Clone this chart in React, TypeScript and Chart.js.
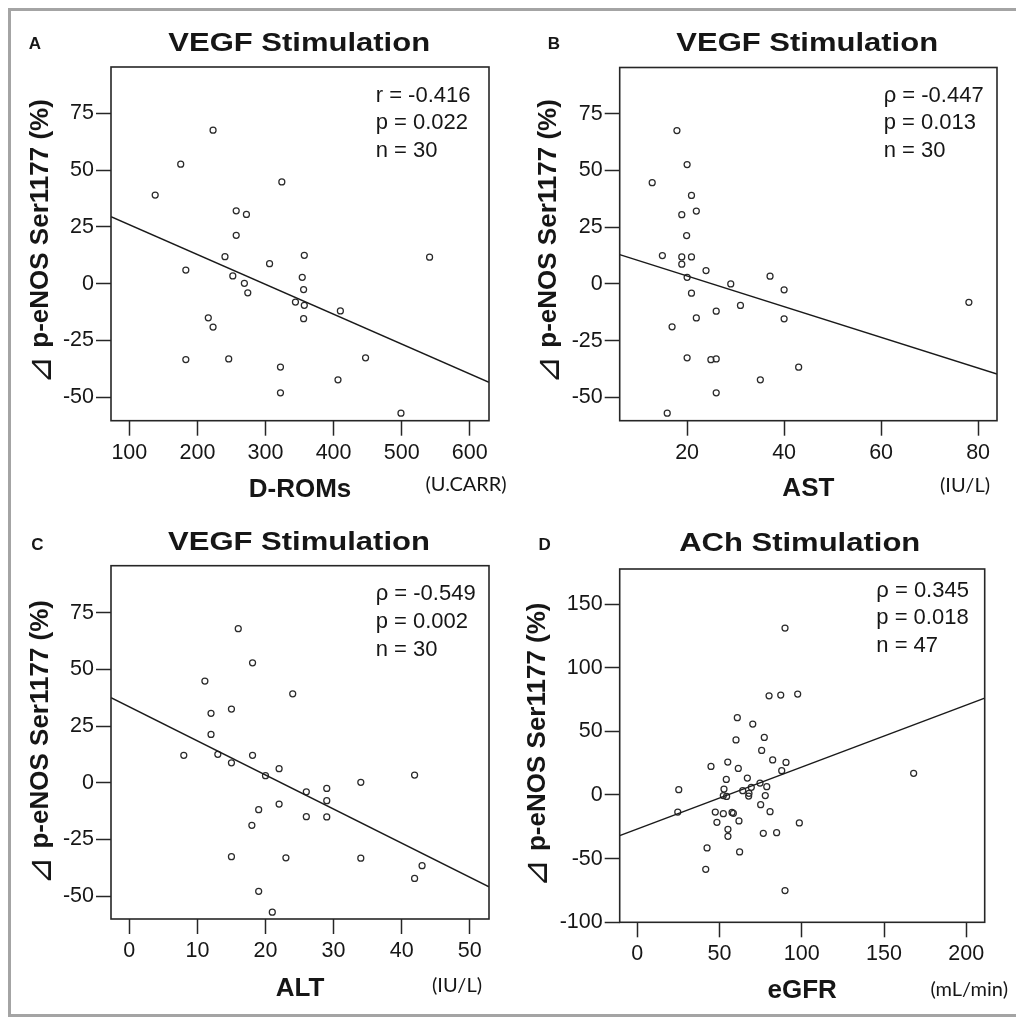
import React, { useEffect, useRef } from "react";
import { Chart, registerables } from "chart.js";

Chart.register(...registerables);

// ---------- Panel A: D-ROMs (U.CARR) vs Δ p-eNOS Ser1177 (%) — VEGF ----------
const dromsX = [223, 175.5, 138, 324, 257, 272, 257, 183, 240.5, 252, 269, 274, 306, 357, 354, 356, 344, 357, 356, 410, 541, 216, 223, 183, 246, 322, 322, 406.5, 447, 499];
const dromsY = [67.6, 52.6, 39, 44.8, 32.1, 30.5, 21.3, 6.0, 11.9, 3.4, 0.2, -4.0, 8.8, 12.5, 2.8, -2.6, -8.1, -9.5, -15.4, -12.0, 11.7, -15.0, -19.1, -33.4, -33.1, -36.7, -48.0, -42.3, -32.6, -57.0];
const dromsFitX = [73.1, 628.3];
const dromsFitY = [29.5, -43.4];
const dromsXTicks = [100, 200, 300, 400, 500, 600];
const dromsStats = ["r = -0.416", "p = 0.022", "n = 30"];

// ---------- Panel B: AST (IU/L) ----------
const astX = [17.9, 20, 12.8, 20.9, 21.9, 18.9, 19.9, 14.9, 18.9, 20.9, 18.9, 23.9, 20, 29, 37.1, 40, 20.9, 31, 26, 21.9, 40, 16.9, 78.1, 20, 24.9, 26, 43, 35.1, 26, 15.9];
const astY = [67.6, 52.6, 44.6, 39, 32.1, 30.5, 21.3, 12.5, 11.9, 11.9, 8.7, 5.9, 2.9, 0, 3.4, -2.6, -4.1, -9.5, -12.0, -15.0, -15.4, -18.9, -8.1, -32.6, -33.4, -33.1, -36.7, -42.3, -48.0, -57.0];
const astFitX = [6.1, 83.9];
const astFitY = [12.9, -39.7];
const astXTicks = [20, 40, 60, 80];
const astStats = ["ρ = -0.447", "p = 0.013", "n = 30"];

// ---------- Panel C: ALT (IU/L) ----------
const altX = [16.0, 18.1, 11.1, 24.0, 15.0, 12.0, 12.0, 8.0, 13.0, 18.1, 15.0, 20.0, 22.0, 34.0, 41.9, 26.0, 29.0, 29.0, 22.0, 19.0, 26.0, 29.0, 18.0, 15.0, 23.0, 34.0, 43.0, 41.9, 19.0, 21.0];
const altY = [67.9, 52.9, 44.8, 39.2, 32.5, 30.6, 21.3, 12.1, 12.5, 12.1, 8.8, 3.1, 6.2, 0.2, 3.4, -4.0, -2.5, -7.9, -9.4, -11.9, -15.0, -15.1, -18.8, -32.6, -33.1, -33.3, -36.6, -42.2, -47.9, -57.1];
const altFitX = [-2.69, 52.83];
const altFitY = [37.5, -45.9];
const altXTicks = [0, 10, 20, 30, 40, 50];
const altStats = ["ρ = -0.549", "p = 0.002", "n = 30"];

// ---------- Panel D: eGFR (mL/min) — ACh ----------
const egfrX = [89.8, 80.1, 87.2, 97.5, 60.8, 70.2, 60.0, 77.2, 75.6, 44.8, 55.0, 61.4, 82.3, 90.4, 87.8, 54.1, 66.9, 74.6, 25.2, 52.7, 64.1, 69.3, 78.7, 67.9, 67.7, 52.3, 54.3, 77.8, 75.0, 80.7, 24.6, 47.4, 52.3, 57.6, 58.4, 48.4, 61.8, 98.5, 55.1, 55.1, 76.6, 84.7, 42.4, 62.2, 41.6, 89.8, 168.0];
const egfrY = [131.1, 77.9, 78.5, 79.3, 60.7, 55.7, 43.2, 45.2, 35.0, 22.4, 25.9, 20.9, 27.5, 25.6, 19.1, 12.2, 13.3, 9.4, 4.2, 4.7, 3.4, 6.0, 6.5, 1.3, -0.8, -0.5, -1.1, -0.5, -7.6, -13.1, -13.4, -13.4, -14.7, -13.7, -14.4, -21.5, -20.4, -22.0, -27.0, -32.5, -30.1, -29.6, -41.6, -44.7, -58.4, -75.1, 17.0];
const egfrFitX = [-10.7, 211.2];
const egfrFitY = [-31.9, 76.1];
const egfrXTicks = [0, 50, 100, 150, 200];
const egfrStats = ["ρ = 0.345", "p = 0.018", "n = 47"];

// shared y ticks
const vegfYTicks = [-50, -25, 0, 25, 50, 75];
const achYTicks = [-100, -50, 0, 50, 100, 150];

const yTitleSymbol = "⊿";
const yTitleText = "p-eNOS Ser1177 (%)";
const FONT = '"Liberation Sans", Arial, Helvetica, sans-serif';
const INK = "#161616";

type PanelCfg = {
  canvas: { x: number; y: number; w: number; h: number };
  area: { l: number; t: number; r: number; b: number };
  xs: number[];
  ys: number[];
  fitX: number[];
  fitY: number[];
  xRange: [number, number];
  yRange: [number, number];
  xTicks: number[];
  yTicks: number[];
  xTitle: string;
  xTitleY: number;
  yTitleX: number;
  yTitleMid: number;
  letter: string;
  letterPos: [number, number];
  title: string;
  titlePos: [number, number];
  stats: string[];
  statsX: number;
  statsY: number[];
  unit: string;
  unitPos: [number, number];
};

const panels: PanelCfg[] = [
  {
    canvas: { x: 0, y: 0, w: 508, h: 500 },
    area: { l: 111, t: 67, r: 489, b: 420.7 },
    xs: dromsX, ys: dromsY, fitX: dromsFitX, fitY: dromsFitY,
    xRange: [73.1, 628.3], yRange: [-60.3, 95.4],
    xTicks: dromsXTicks, yTicks: vegfYTicks,
    xTitle: "D-ROMs", xTitleY: 489.5, yTitleX: 40.8, yTitleMid: 241.7,
    letter: "A", letterPos: [35, 48.5],
    title: "VEGF Stimulation", titlePos: [299.2, 50.5],
    stats: dromsStats, statsX: 375.7, statsY: [101.7, 129.3, 156.7],
    unit: "(U.CARR)", unitPos: [506.7, 484.5],
  },
  {
    canvas: { x: 508, y: 0, w: 508, h: 500 },
    area: { l: 619.7, t: 67.5, r: 997, b: 420.7 },
    xs: astX, ys: astY, fitX: astFitX, fitY: astFitY,
    xRange: [6.1, 83.9], yRange: [-60.3, 95.4],
    xTicks: astXTicks, yTicks: vegfYTicks,
    xTitle: "AST", xTitleY: 489, yTitleX: 548.8, yTitleMid: 241.7,
    letter: "B", letterPos: [554, 49],
    title: "VEGF Stimulation", titlePos: [807.2, 50.5],
    stats: astStats, statsX: 883.7, statsY: [101.7, 129.3, 156.7],
    unit: "(IU/L)", unitPos: [990, 485.5],
  },
  {
    canvas: { x: 0, y: 500, w: 508, h: 517 },
    area: { l: 111, t: 565.7, r: 489, b: 919 },
    xs: altX, ys: altY, fitX: altFitX, fitY: altFitY,
    xRange: [-2.69, 52.83], yRange: [-60.1, 95.7],
    xTicks: altXTicks, yTicks: vegfYTicks,
    xTitle: "ALT", xTitleY: 988.7, yTitleX: 40.8, yTitleMid: 742.5,
    letter: "C", letterPos: [37.5, 550],
    title: "VEGF Stimulation", titlePos: [299, 550],
    stats: altStats, statsX: 375.7, statsY: [600, 628.3, 655.7],
    unit: "(IU/L)", unitPos: [482, 986],
  },
  {
    canvas: { x: 508, y: 500, w: 508, h: 517 },
    area: { l: 619.7, t: 569, r: 984.7, b: 922.3 },
    xs: egfrX, ys: egfrY, fitX: egfrFitX, fitY: egfrFitY,
    xRange: [-10.7, 211.2], yRange: [-100, 177.5],
    xTicks: egfrXTicks, yTicks: achYTicks,
    xTitle: "eGFR", xTitleY: 990.5, yTitleX: 537.5, yTitleMid: 745,
    letter: "D", letterPos: [544.7, 550],
    title: "ACh Stimulation", titlePos: [799.7, 551],
    stats: egfrStats, statsX: 876.3, statsY: [596.7, 624, 651.7],
    unit: "(mL/min)", unitPos: [1008, 990],
  },
];

function Panel({ cfg }: { cfg: PanelCfg }) {
  const ref = useRef<HTMLCanvasElement | null>(null);

  useEffect(() => {
    const canvas = ref.current;
    if (!canvas) return;
    const cx = cfg.canvas.x;
    const cy = cfg.canvas.y;
    const l = cfg.area.l - cx;
    const t = cfg.area.t - cy;
    const r = cfg.area.r - cx;
    const b = cfg.area.b - cy;
    const titleSize = 26;
    const titleLH = 1.2;
    const xTitlePadBottom = cfg.canvas.h - (cfg.xTitleY - cy) - (titleSize * titleLH) / 2;

    const decor = {
      id: "decor",
      afterDatasetsDraw(chart: any) {
        const ctx = chart.ctx as CanvasRenderingContext2D;
        const a = chart.chartArea;
        ctx.save();
        // plot frame
        ctx.strokeStyle = "#262626";
        ctx.lineWidth = 1.6;
        ctx.strokeRect(a.left, a.top, a.right - a.left, a.bottom - a.top);

        ctx.fillStyle = INK;
        // panel letter
        ctx.font = `bold 17px ${FONT}`;
        ctx.textAlign = "center";
        ctx.textBaseline = "alphabetic";
        ctx.fillText(cfg.letter, cfg.letterPos[0] - cx, cfg.letterPos[1] - cy);

        // panel title (horizontally widened like the original)
        ctx.save();
        ctx.translate(cfg.titlePos[0] - cx, cfg.titlePos[1] - cy);
        ctx.scale(1.24, 1);
        ctx.font = `bold 25px ${FONT}`;
        ctx.textAlign = "center";
        ctx.fillText(cfg.title, 0, 0);
        ctx.restore();

        // y-axis title, rotated: large thin triangle symbol + bold text
        ctx.save();
        ctx.translate(cfg.yTitleX - cx, cfg.yTitleMid - cy);
        ctx.rotate(-Math.PI / 2);
        ctx.textBaseline = "middle";
        ctx.textAlign = "left";
        const symFont = `34px "DejaVu Sans", "Noto Sans", sans-serif`;
        const txtFont = `bold 26px ${FONT}`;
        ctx.font = symFont;
        const symW = ctx.measureText(yTitleSymbol).width;
        ctx.font = txtFont;
        const txtW = ctx.measureText(yTitleText).width;
        const gap = 8;
        const total = symW + gap + txtW;
        let x0 = -total / 2;
        ctx.font = symFont;
        ctx.fillText(yTitleSymbol, x0, 1);
        x0 += symW + gap;
        ctx.font = txtFont;
        ctx.fillText(yTitleText, x0, 0);
        ctx.restore();

        // statistics
        ctx.font = `22px ${FONT}`;
        ctx.textAlign = "left";
        ctx.textBaseline = "alphabetic";
        cfg.stats.forEach((s, i) => {
          ctx.fillText(s, cfg.statsX - cx, cfg.statsY[i] - cy);
        });

        // unit
        ctx.font = `20px Lato, "Open Sans", ${FONT}`;
        ctx.textAlign = "right";
        ctx.textBaseline = "middle";
        ctx.fillText(cfg.unit, cfg.unitPos[0] - cx, cfg.unitPos[1] - cy);
        ctx.restore();
      },
    };

    const tickFont = { family: FONT, size: 21.5 };
    const titleFont = { family: FONT, size: titleSize, weight: "bold" as const, lineHeight: titleLH };

    const chart = new Chart(canvas, {
      type: "scatter",
      data: {
        datasets: [
          {
            label: "fit",
            data: cfg.fitX.map((x, i) => ({ x, y: cfg.fitY[i] })),
            showLine: true,
            borderColor: "#1a1a1a",
            borderWidth: 1.5,
            pointRadius: 0,
            pointHoverRadius: 0,
            fill: false,
            tension: 0,
          },
          {
            label: "subjects",
            data: cfg.xs.map((x, i) => ({ x, y: cfg.ys[i] })),
            showLine: false,
            pointStyle: "circle",
            pointRadius: 3,
            pointHoverRadius: 3,
            pointBorderWidth: 1.25,
            pointBorderColor: "#2a2a2a",
            pointBackgroundColor: "rgba(255,255,255,0)",
            borderColor: "#2a2a2a",
            backgroundColor: "rgba(255,255,255,0)",
          },
        ],
      },
      options: {
        animation: false,
        responsive: false,
        devicePixelRatio: 1,
        layout: {
          autoPadding: false,
          padding: { left: 0, top: t, right: cfg.canvas.w - r, bottom: 0 },
        },
        plugins: {
          legend: { display: false },
          tooltip: { enabled: false },
          title: { display: false },
        },
        scales: {
          x: {
            type: "linear",
            position: "bottom",
            min: cfg.xRange[0],
            max: cfg.xRange[1],
            afterBuildTicks: (s: any) => {
              s.ticks = cfg.xTicks.map((v) => ({ value: v }));
            },
            afterFit: (s: any) => {
              s.height = cfg.canvas.h - b;
              s.paddingLeft = 0;
              s.paddingRight = 0;
            },
            grid: {
              display: true,
              drawOnChartArea: false,
              drawTicks: true,
              tickLength: 15,
              tickWidth: 1.5,
              tickColor: "#262626",
              color: "#262626",
            },
            border: { display: false },
            ticks: {
              autoSkip: false,
              maxRotation: 0,
              minRotation: 0,
              padding: 4,
              color: INK,
              font: tickFont,
              callback: (v: any) => String(v),
            },
            title: {
              display: true,
              text: cfg.xTitle,
              color: INK,
              font: titleFont,
              padding: { top: 0, bottom: xTitlePadBottom },
            },
          },
          y: {
            type: "linear",
            position: "left",
            min: cfg.yRange[0],
            max: cfg.yRange[1],
            afterBuildTicks: (s: any) => {
              s.ticks = cfg.yTicks.map((v) => ({ value: v }));
            },
            afterFit: (s: any) => {
              s.width = l;
              s.paddingTop = 0;
              s.paddingBottom = 0;
            },
            grid: {
              display: true,
              drawOnChartArea: false,
              drawTicks: true,
              tickLength: 15,
              tickWidth: 1.5,
              tickColor: "#262626",
              color: "#262626",
            },
            border: { display: false },
            ticks: {
              autoSkip: false,
              padding: 2,
              color: INK,
              font: tickFont,
              callback: (v: any) => String(v),
            },
            title: { display: false },
          },
        },
      },
      plugins: [decor],
    } as any);

    return () => chart.destroy();
  }, [cfg]);

  return (
    <canvas
      ref={ref}
      width={cfg.canvas.w}
      height={cfg.canvas.h}
      style={{
        position: "absolute",
        left: cfg.canvas.x,
        top: cfg.canvas.y,
        width: cfg.canvas.w,
        height: cfg.canvas.h,
      }}
    />
  );
}

export default function App() {
  return (
    <div
      style={{
        position: "absolute",
        left: 0,
        top: 0,
        width: 1016,
        height: 1017,
        overflow: "hidden",
        background: "#ffffff",
      }}
    >
      <div
        style={{
          position: "absolute",
          left: 8,
          top: 8,
          width: 1040,
          height: 1009,
          boxSizing: "border-box",
          border: "3px solid #a4a4a4",
        }}
      />
      {panels.map((p) => (
        <Panel key={p.letter} cfg={p} />
      ))}
    </div>
  );
}
